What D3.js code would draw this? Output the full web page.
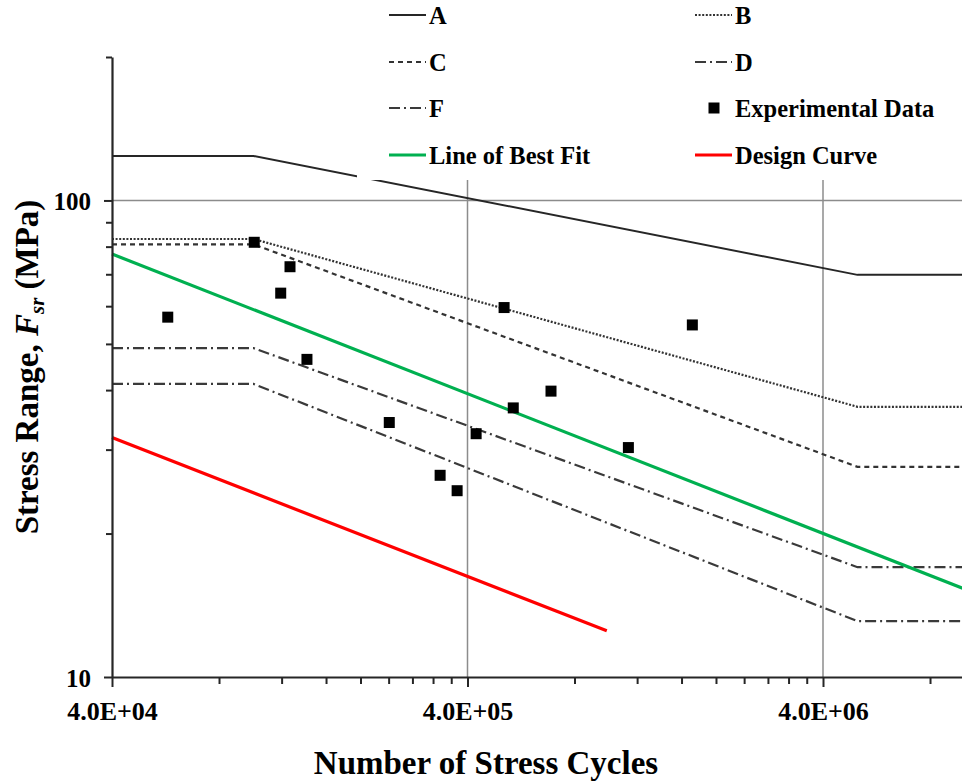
<!DOCTYPE html>
<html>
<head>
<meta charset="utf-8">
<script src="https://cdn.jsdelivr.net/npm/d3@7"></script>
<style>
  html, body { margin: 0; padding: 0; background: #fff; }
  svg { display: block; }
  text { font-family: "Liberation Serif", "Times New Roman", serif; font-weight: bold; fill: #000; }
</style>
</head>
<body>
<svg id="chart" width="962" height="784"></svg>
<script>
// ---------------- data ----------------
const curveCycles = [4e4, 1e5, 5e6, 4e7];
const catA = [124.0, 124.0, 69.8, 69.8];
const catB = [83.0, 83.0, 36.9, 36.9];
const catC = [80.9, 80.9, 27.6, 27.6];
const catD = [49.0, 49.0, 17.0, 17.0];
const catF = [41.2, 41.2, 13.1, 13.1];

const bestFitCycles = [4e4, 1e7];
const bestFitStress = [77.2, 15.3];

const designCycles = [4e4, 9.86e5];
const designStress = [31.8, 12.5];

const expCycles = [5.74e4, 1.005e5, 1.267e5, 1.193e5, 1.414e5, 2.41e5, 3.35e5, 3.74e5, 4.23e5, 5.07e5, 5.38e5, 6.87e5, 1.134e6, 1.716e6];
const expStress = [56.9, 81.7, 72.6, 63.9, 46.4, 34.2, 26.5, 24.6, 32.4, 59.6, 36.7, 39.8, 30.3, 54.8];

const xMajorTicks = [4e4, 4e5, 4e6];
const xMajorLabels = ["4.0E+04", "4.0E+05", "4.0E+06"];
const xMinorTicks = [8e4, 1.2e5, 1.6e5, 2e5, 2.4e5, 2.8e5, 3.2e5, 3.6e5,
                     8e5, 1.2e6, 1.6e6, 2e6, 2.4e6, 2.8e6, 3.2e6, 3.6e6,
                     8e6, 1.2e7];
const yMajorTicks = [10, 100];
const yMajorLabels = ["10", "100"];
const yMinorTicks = [20, 30, 40, 50, 60, 70, 80, 90, 200];

const legendNames = ["A", "B", "C", "D", "F", "Experimental Data", "Line of Best Fit", "Design Curve"];

// ---------------- chart ----------------
const svg = d3.select("#chart");
const L = 112, R = 1178.5, T = 57, B = 677;
const x = d3.scaleLog().domain([4e4, 4e7]).range([L, R]);
const y = d3.scaleLog().domain([10, 200]).range([B, T]);

const styles = {
  A: { stroke: "#262626", dash: null, width: 2 },
  B: { stroke: "#333", dash: "2,1.6", width: 2.2 },
  C: { stroke: "#333", dash: "5,4", width: 2.2 },
  D: { stroke: "#3a3a3a", dash: "11,4,2,4", width: 2.2 },
  F: { stroke: "#3a3a3a", dash: "11,4,2,4", width: 2.2 },
  fit: { stroke: "#00b050", dash: null, width: 3.2 },
  design: { stroke: "#ff0000", dash: null, width: 3.2 }
};

// gridlines
const grid = svg.append("g");
grid.selectAll("line.vg").data([4e5, 4e6]).join("line")
  .attr("x1", d => x(d)).attr("x2", d => x(d))
  .attr("y1", T).attr("y2", B)
  .attr("stroke", "#8c8c8c").attr("stroke-width", 1.5);
grid.append("line")
  .attr("x1", L).attr("x2", 962).attr("y1", y(100)).attr("y2", y(100))
  .attr("stroke", "#8c8c8c").attr("stroke-width", 1.5);

const line = d3.line().x(d => x(d[0])).y(d => y(d[1]));
function drawSeries(xs, ys, st) {
  svg.append("path")
    .datum(xs.map((v, i) => [v, ys[i]]))
    .attr("d", line)
    .attr("fill", "none")
    .attr("stroke", st.stroke)
    .attr("stroke-width", st.width)
    .attr("stroke-dasharray", st.dash);
}
drawSeries(curveCycles, catA, styles.A);
drawSeries(curveCycles, catB, styles.B);
drawSeries(curveCycles, catC, styles.C);
drawSeries(curveCycles, catD, styles.D);
drawSeries(curveCycles, catF, styles.F);
drawSeries(bestFitCycles, bestFitStress, styles.fit);
drawSeries(designCycles, designStress, styles.design);

// experimental points
const sq = 11;
svg.append("g").selectAll("rect").data(expCycles.map((c, i) => [c, expStress[i]])).join("rect")
  .attr("x", d => x(d[0]) - sq / 2).attr("y", d => y(d[1]) - sq / 2)
  .attr("width", sq).attr("height", sq).attr("fill", "#000");

// axes
const axisColor = "#262626";
const gx = svg.append("g").attr("transform", `translate(0,${B})`);
gx.call(d3.axisBottom(x).tickValues(xMinorTicks).tickSize(7).tickFormat(""));
gx.call(g => g.select(".domain").remove());
const gx2 = svg.append("g").attr("transform", `translate(0,${B})`);
gx2.call(d3.axisBottom(x).tickValues(xMajorTicks).tickSize(10).tickSizeOuter(0)
  .tickFormat((d, i) => xMajorLabels[i]));
gx2.selectAll("text").attr("y", 43).attr("dy", 0).style("font-size", "26px")
  .style("font-family", '"Liberation Serif", serif').style("font-weight", "bold");

const gy = svg.append("g").attr("transform", `translate(${L},0)`);
gy.call(d3.axisLeft(y).tickValues(yMinorTicks).tickSize(6).tickFormat(""));
gy.call(g => g.select(".domain").remove());
const gy2 = svg.append("g").attr("transform", `translate(${L},0)`);
gy2.call(d3.axisLeft(y).tickValues(yMajorTicks).tickSize(8).tickSizeOuter(0)
  .tickFormat((d, i) => yMajorLabels[i]));
gy2.selectAll("text").attr("x", -21).attr("dy", "0.36em").style("font-size", "25px")
  .style("font-family", '"Liberation Serif", serif').style("font-weight", "bold");

[gx, gx2, gy, gy2].forEach(g => {
  g.selectAll("line").attr("stroke", axisColor).attr("stroke-width", 2);
  g.selectAll(".domain").attr("stroke", axisColor).attr("stroke-width", 2.2);
});
gx2.select(".domain").attr("d", `M${L},0.5H962`);

// axis titles
svg.append("text").attr("x", 486).attr("y", 774).attr("text-anchor", "middle")
  .style("font-size", "33px").text("Number of Stress Cycles");

const yt = svg.append("text").attr("transform", "translate(38,367) rotate(-90)")
  .attr("text-anchor", "middle").style("font-size", "33px");
yt.append("tspan").text("Stress Range, ");
yt.append("tspan").style("font-style", "italic").text("F");
yt.append("tspan").style("font-style", "italic").style("font-size", "21px").attr("dy", 6).text("sr");
yt.append("tspan").attr("dy", -6).text(" (MPa)");

// legend
svg.append("rect").attr("x", 357).attr("y", 0).attr("width", 605).attr("height", 180).attr("fill", "#fff");
const legendItems = [
  { name: legendNames[0], key: "A", col: 0, row: 0 },
  { name: legendNames[1], key: "B", col: 1, row: 0 },
  { name: legendNames[2], key: "C", col: 0, row: 1 },
  { name: legendNames[3], key: "D", col: 1, row: 1 },
  { name: legendNames[4], key: "F", col: 0, row: 2 },
  { name: legendNames[5], key: "exp", col: 1, row: 2 },
  { name: legendNames[6], key: "fit", col: 0, row: 3 },
  { name: legendNames[7], key: "design", col: 1, row: 3 }
];
const colX = [389, 695], rowY = [15, 62, 108, 155];
const lg = svg.append("g");
legendItems.forEach(it => {
  const lx = colX[it.col], ly = rowY[it.row];
  if (it.key === "exp") {
    lg.append("rect").attr("x", lx + 19 - 5.5).attr("y", ly - 5.5).attr("width", 11).attr("height", 11).attr("fill", "#000");
  } else {
    const st = styles[it.key];
    lg.append("line").attr("x1", lx).attr("x2", lx + 37).attr("y1", ly).attr("y2", ly)
      .attr("stroke", st.stroke).attr("stroke-width", st.width).attr("stroke-dasharray", st.dash);
  }
  lg.append("text").attr("x", lx + 40).attr("y", ly + 8.5).style("font-size", "24.5px").text(it.name);
});
</script>
</body>
</html>
